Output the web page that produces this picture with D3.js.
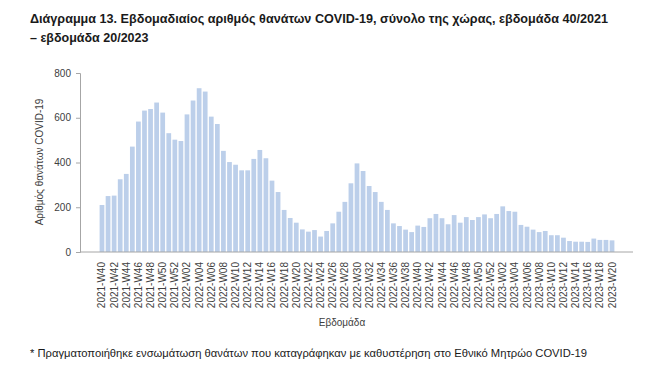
<!DOCTYPE html>
<html>
<head>
<meta charset="utf-8">
<script src="https://cdn.jsdelivr.net/npm/d3@7"></script>
<style>
  body { margin: 0; background: #fff; }
  svg text { font-family: "Liberation Sans", Arial, sans-serif; }
</style>
</head>
<body>
<svg id="chart" width="650" height="365"></svg>
<script>
var width = 650,
    height = 365;

// weeks 2021-W40 .. 2023-W20
var weeks = [];
d3.range(40, 53).forEach(function(w){ weeks.push("2021-W" + d3.format("02")(w)); });
d3.range(1, 53).forEach(function(w){ weeks.push("2022-W" + d3.format("02")(w)); });
d3.range(1, 21).forEach(function(w){ weeks.push("2023-W" + d3.format("02")(w)); });

var deaths = [210, 250, 252, 325, 349, 471, 583, 632, 639, 668,
              623, 531, 502, 496, 615, 677, 732, 717, 605, 572,
              452, 402, 390, 365, 365, 416, 456, 419, 319, 268,
              188, 152, 131, 101, 91, 98, 69, 94, 128, 180,
              224, 307, 396, 362, 295, 268, 224, 188, 128, 116,
              100, 89, 118, 112, 151, 170, 151, 124, 165, 131,
              156, 143, 156, 168, 151, 170, 204, 183, 180, 121,
              113, 100, 89, 94, 75, 75, 64, 49, 46, 46,
              45, 60, 54, 54, 52];

var yTicks = [0, 200, 400, 600, 800];

var titleLines = ["Διάγραμμα 13. Εβδομαδιαίος αριθμός θανάτων COVID-19, σύνολο της χώρας, εβδομάδα 40/2021",
                  "– εβδομάδα 20/2023"];
var footnote = "* Πραγματοποιήθηκε ενσωμάτωση θανάτων που καταγράφηκαν με καθυστέρηση στο Εθνικό Μητρώο COVID-19";

var svg = d3.select("#chart");

var x = d3.scaleBand()
    .domain(weeks)
    .range([99, 615])
    .paddingInner(0.22)
    .paddingOuter(0.1);

var y = d3.scaleLinear()
    .domain([0, 800])
    .range([252, 73]);

// title
svg.append("g").selectAll("text")
    .data(titleLines).enter()
    .append("text")
    .attr("x", 30)
    .attr("y", function(d, i){ return 23 + i * 19; })
    .attr("font-size", 12.5)
    .attr("font-weight", "bold")
    .attr("fill", "#1a1a1a")
    .attr("textLength", function(d, i){ return i == 0 ? 578 : null; })
    .attr("lengthAdjust", "spacingAndGlyphs")
    .text(function(d){ return d; });

// bars
svg.append("g").selectAll("rect")
    .data(deaths).enter()
    .append("rect")
    .attr("x", function(d, i){ return x(weeks[i]); })
    .attr("width", x.bandwidth())
    .attr("y", function(d){ return y(d); })
    .attr("height", function(d){ return y(0) - y(d); })
    .attr("fill", "#bccfea");

// y axis
var yAxis = svg.append("g")
    .attr("transform", "translate(80,0)")
    .call(d3.axisLeft(y).tickValues(yTicks).tickSize(4).tickPadding(5));
yAxis.select(".domain").attr("stroke", "#a6a6a6");
yAxis.selectAll(".tick line").attr("stroke", "#a6a6a6");
yAxis.selectAll("text").attr("font-size", 10).attr("fill", "#404040")
    .attr("font-family", "Liberation Sans, Arial, sans-serif");

// x axis
svg.append("line")
    .attr("x1", 80).attr("x2", 633)
    .attr("y1", y(0)).attr("y2", y(0))
    .attr("stroke", "#a6a6a6");

svg.append("g").selectAll("text")
    .data(weeks.filter(function(d, i){ return i % 2 == 0; })).enter()
    .append("text")
    .attr("transform", function(d){
        return "translate(" + (x(d) + x.bandwidth() / 2 + 3.5) + ",262) rotate(-90)";
    })
    .attr("text-anchor", "end")
    .attr("font-size", 10)
    .attr("fill", "#404040")
    .text(function(d){ return d; });

// axis titles
svg.append("text")
    .attr("transform", "translate(43,162) rotate(-90)")
    .attr("text-anchor", "middle")
    .attr("font-size", 10)
    .attr("fill", "#404040")
    .text("Αριθμός θανάτων COVID-19");

svg.append("text")
    .attr("x", 342)
    .attr("y", 326)
    .attr("text-anchor", "middle")
    .attr("font-size", 10)
    .attr("fill", "#404040")
    .text("Εβδομάδα");

// footnote
svg.append("text")
    .attr("x", 30)
    .attr("y", 357)
    .attr("font-size", 10.5)
    .attr("fill", "#1a1a1a")
    .attr("textLength", 557)
    .attr("lengthAdjust", "spacingAndGlyphs")
    .text(footnote);
</script>
</body>
</html>
